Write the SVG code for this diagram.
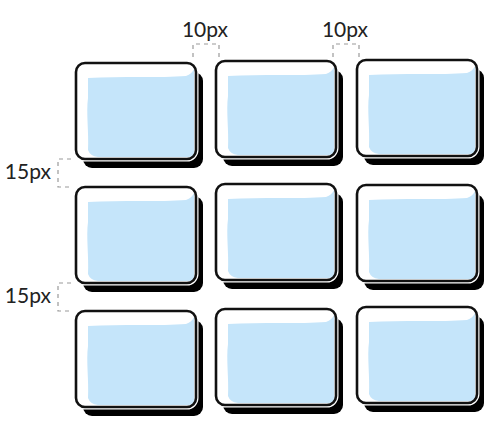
<svg xmlns="http://www.w3.org/2000/svg" width="490" height="438" viewBox="0 0 490 438">
<style>
.shadow{fill:#000}
.halo{fill:#fff;stroke:#fff;stroke-width:5}
.blue{fill:#c5e5fa}
.outline{fill:none;stroke:#111;stroke-width:2.6}
.dim{fill:none;stroke:#9a9a9a;stroke-width:1.2;stroke-dasharray:4 4}
.lbl{font-family:Lato,"Liberation Sans",sans-serif;font-size:21px;fill:#222}
</style>
<defs>
<g id="tile">
<rect class="shadow" x="7" y="9" width="120" height="96" rx="9"/>
<rect class="halo" x="0" y="0" width="120" height="96" rx="9"/>
<path class="blue" d="M12 15 C45 13 85 15 110 13 Q116 11 118 6 L118 89 Q118 94 112 94 L22 94 Q14 93 12 87 C13 70 10 50 12 35 Z"/>
<rect class="outline" x="0" y="0" width="120" height="96" rx="9"/>
</g>
</defs>
<rect width="490" height="438" fill="#fff"/>
<g id="dimensions">
<path class="dim" d="M193 57 V44 H219 V57"/>
<path class="dim" d="M333 57 V44 H359 V57"/>
<path class="dim" d="M71 159 H58 V187 H71"/>
<path class="dim" d="M71 283 H58 V311 H71"/>
<text class="lbl" x="205" y="37" text-anchor="middle">10px</text>
<text class="lbl" x="345" y="37" text-anchor="middle">10px</text>
<text class="lbl" x="51" y="179" text-anchor="end">15px</text>
<text class="lbl" x="51" y="303" text-anchor="end">15px</text>
</g>
<g id="connectors"/>
<g id="box-r1c1" transform="translate(76,63)"><use href="#tile"/></g>
<g id="box-r1c2" transform="translate(216,61)"><use href="#tile"/></g>
<g id="box-r1c3" transform="translate(357,60)"><use href="#tile"/></g>
<g id="box-r2c1" transform="translate(76,187)"><use href="#tile"/></g>
<g id="box-r2c2" transform="translate(216,184)"><use href="#tile"/></g>
<g id="box-r2c3" transform="translate(357,185)"><use href="#tile"/></g>
<g id="box-r3c1" transform="translate(76,311)"><use href="#tile"/></g>
<g id="box-r3c2" transform="translate(216,309)"><use href="#tile"/></g>
<g id="box-r3c3" transform="translate(357,307)"><use href="#tile"/></g>
</svg>
